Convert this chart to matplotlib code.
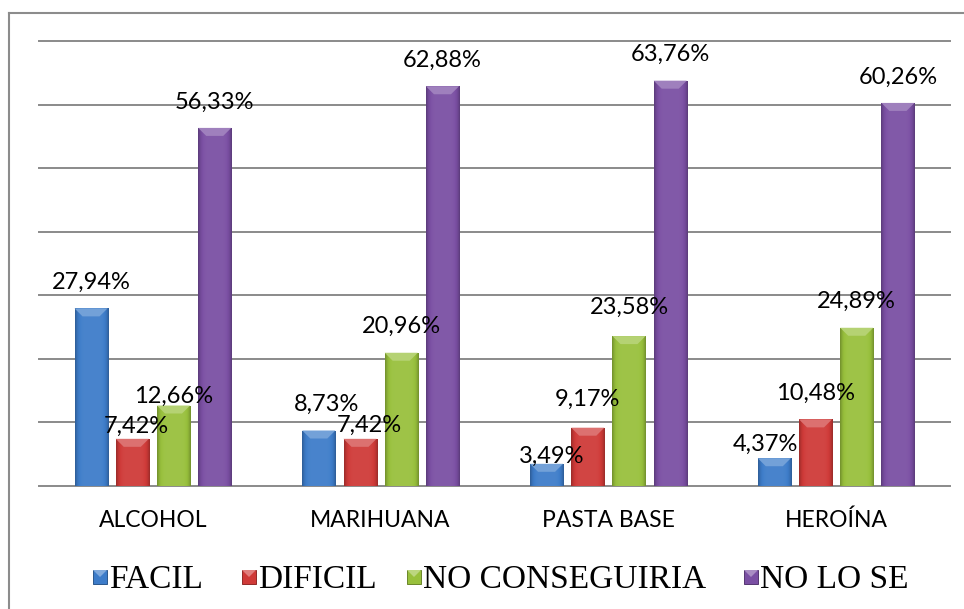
"""Grouped bar chart: perceived ease of obtaining each drug."""

import matplotlib.pyplot as plt
import numpy as np
from matplotlib.colors import to_rgb
from matplotlib.lines import Line2D
from matplotlib.patches import Polygon, Rectangle


categories = ["ALCOHOL", "MARIHUANA", "PASTA BASE", "HEROÍNA"]
series_names = ["FACIL", "DIFICIL", "NO CONSEGUIRIA", "NO LO SE"]
facil = [27.94, 8.73, 3.49, 4.37]
dificil = [7.42, 7.42, 9.17, 10.48]
no_conseguiria = [12.66, 20.96, 23.58, 24.89]
no_lo_se = [56.33, 62.88, 63.76, 60.26]
y_ticks = [0, 10, 20, 30, 40, 50, 60, 70]

COLORS = ["#3d7cc9", "#cf3a38", "#98c03c", "#7a4fa3"]
GRID_COLOR = "#8a8a8a"
LABEL_FONT = "Lato"

W, H = 964, 609
BAR_PITCH = 0.181
BAR_WIDTH = 0.145
LABEL_GAP_PX = 26
# Excel moved a few labels to avoid overlaps: (series, category) -> (dx, dy) px
LABEL_NUDGE = {
    (1, 0): (4, 12),
    (2, 0): (0, 9),
    (0, 1): (8, 26),
    (1, 1): (9, 13),
    (0, 2): (5, 7),
    (1, 2): (0, 28),
    (2, 2): (0, 29),
    (0, 3): (-9, 14),
}
# legend entries as Excel laid them out (marker left edge in px)
LEGEND_X = [93, 242, 407, 744]
MARKER_PX = 14


def blend(color, other, amount):
    c = np.array(to_rgb(color))
    o = np.array(to_rgb(other))
    return tuple(c + (o - c) * amount)


def draw_bevel_bar(ax, x0, width, height, color):
    """Draw one bar with darker side edges and a light bevelled top."""

    rect = ax.bar(x0, height, width=width, align="edge", color=color,
                  edgecolor=blend(color, "black", 0.3), linewidth=0.6,
                  zorder=2)[0]

    t = np.linspace(0, 1, 64)
    shade = 0.06 - 0.32 * np.abs(2 * t - 1) ** 6
    rgb = np.array([blend(color, "white", s) if s > 0 else blend(color, "black", -s)
                    for s in shade])
    img = ax.imshow(rgb[np.newaxis, :, :], extent=(x0, x0 + width, 0, height),
                    aspect="auto", zorder=2.1, interpolation="bicubic")
    img.set_clip_path(rect)

    bevel_h = min(8 / 445 * 70, height * 0.5)
    inset = 8 / 227.75
    top = Polygon([(x0, height), (x0 + width, height),
                   (x0 + width - inset, height - bevel_h),
                   (x0 + inset, height - bevel_h)],
                  closed=True, facecolor=blend(color, "white", 0.28),
                  edgecolor="none", zorder=2.2)
    ax.add_patch(top)


def main():
    series = [facil, dificil, no_conseguiria, no_lo_se]

    fig = plt.figure(figsize=(W / 100, H / 100), dpi=100)
    ax = fig.add_axes([39 / W, 123 / H, 911 / W, 445 / H])

    x = np.arange(len(categories))
    for s, (values, color) in enumerate(zip(series, COLORS)):
        offset = (s - 1.5) * BAR_PITCH
        for c, v in enumerate(values):
            x0 = x[c] + offset - BAR_WIDTH / 2
            draw_bevel_bar(ax, x0, BAR_WIDTH, v, color)
            dx, dy = LABEL_NUDGE.get((s, c), (0, LABEL_GAP_PX))
            ax.annotate(f"{v:.2f}".replace(".", ",") + "%",
                        xy=(x[c] + offset, v), xytext=(dx, dy),
                        textcoords="offset pixels", ha="center", va="center",
                        fontsize=17, family=LABEL_FONT, color="black",
                        zorder=5)

    for y in y_ticks:
        ax.axhline(y, color=GRID_COLOR, linewidth=1.4, zorder=0, clip_on=False)

    ax.set_xlim(-0.5, len(categories) - 0.5)
    ax.set_ylim(0, 70)
    ax.set_yticks([])
    ax.set_xticks(x)
    ax.set_xticklabels(categories, fontsize=16.5, family=LABEL_FONT)
    ax.tick_params(axis="x", length=0, pad=17)
    for spine in ax.spines.values():
        spine.set_visible(False)

    # legend, placed by hand to keep Excel's uneven spacing
    m = MARKER_PX
    for name, color, lx in zip(series_names, COLORS, LEGEND_X):
        fig.add_artist(Rectangle((lx / W, (H - 584) / H), m / W, m / H,
                                 transform=fig.transFigure, facecolor=color,
                                 edgecolor=blend(color, "black", 0.3),
                                 linewidth=0.7))
        fig.add_artist(Polygon([(lx / W, (H - 570) / H),
                                ((lx + m) / W, (H - 570) / H),
                                ((lx + m / 2) / W, (H - 577) / H)],
                               closed=True, transform=fig.transFigure,
                               facecolor=blend(color, "white", 0.35),
                               edgecolor="none"))
        fig.text((lx + m + 2) / W, (H - 588) / H, name, ha="left",
                 va="baseline", family="Liberation Serif", fontsize=24)

    # outer chart border (left and top edges visible in the crop)
    fig.add_artist(Line2D([9 / W, 9 / W], [0, 596 / H],
                          transform=fig.transFigure, color="#8c8c8c", lw=1.5))
    fig.add_artist(Line2D([9 / W, 1], [596 / H, 596 / H],
                          transform=fig.transFigure, color="#8c8c8c", lw=1.5))

    fig.savefig("out.png", dpi=100, facecolor="white")


if __name__ == "__main__":
    main()
